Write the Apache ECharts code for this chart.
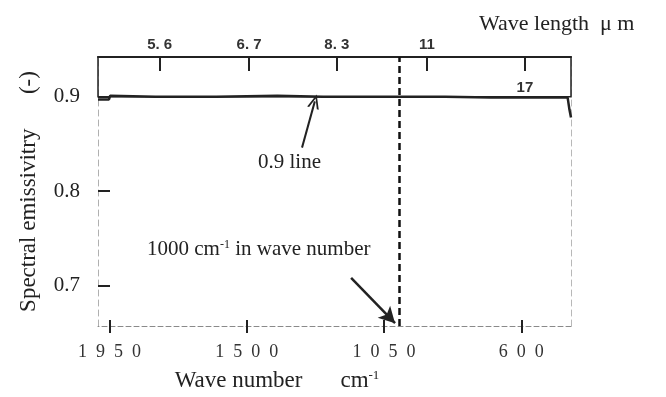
<!DOCTYPE html>
<html>
<head>
<meta charset="utf-8">
<script src="https://cdn.jsdelivr.net/npm/echarts@6/dist/echarts.min.js"></script>
<style>
    html, body { margin: 0; padding: 0; background: #fff; }
    #chart { width: 666px; height: 397px; }
</style>
</head>
<body>
<div id="chart"></div>
<script>
// wave number axis (bottom), cm-1
var waveNumberTicks = [1950, 1500, 1050, 600];
var waveNumberMin = 437;
var waveNumberMax = 1988;
// wave length axis (top), um
var waveLengthTicks = [5.6, 6.7, 8.3, 11, 17];
var waveLengthLabels = ['5. 6', '6. 7', '8. 3', '11', '17'];
// emissivity axis
var emissivityTicks = [0.7, 0.8, 0.9];
var emissivityMin = 0.657;
var emissivityMax = 0.942;
// measured curve
var waveNumber = [1988, 1952, 1948, 1800, 1600, 1400, 1250, 1100, 1000, 850, 700, 600, 500, 448, 442, 437];
var emissivity = [0.897, 0.897, 0.901, 0.900, 0.900, 0.901, 0.900, 0.900, 0.900, 0.900, 0.899, 0.899, 0.899, 0.899, 0.886, 0.878];
// marked wave number
var markWaveNumber = 1000;
// annotation arrows [from, to] in (wave number, emissivity)
var arrowLine09 = [[1319, 0.846], [1277, 0.895]];
var arrowLine1000 = [[1158, 0.708], [1014, 0.660]];

(function () {
    var serif = 'Liberation Serif';
    var ink = '#222';
    var topValues = waveLengthTicks.map(function (l) { return 10000 / l; });
    var lengthLabel = function (v) {
        for (var i = 0; i < topValues.length; i++) {
            if (Math.abs(topValues[i] - v) < 0.01) return waveLengthLabels[i];
        }
        return '';
    };
    var seriesData = [];
    for (var i = 0; i < waveNumber.length; i++) {
        seriesData.push([waveNumber[i], emissivity[i]]);
    }
    var baseX = function () {
        return {
            type: 'value',
            inverse: true,
            min: waveNumberMin,
            max: waveNumberMax,
            splitLine: { show: false },
            axisLine: { show: false },
            axisTick: { show: false },
            axisLabel: { show: false }
        };
    };

    // bottom: wave number
    var xBottom = baseX();
    xBottom.position = 'bottom';
    xBottom.axisLine = { show: true, lineStyle: { color: '#8a8a8a', width: 1, type: [5, 3] } };
    xBottom.axisTick = { show: true, length: 7, customValues: waveNumberTicks, lineStyle: { color: ink, width: 2 } };
    xBottom.axisLabel = {
        show: true, customValues: waveNumberTicks, margin: 17,
        fontFamily: serif, fontSize: 18, color: '#333',
        formatter: function (v) { return String(v).split('').join('\u2002'); }
    };
    xBottom.name = 'Wave number{g|}cm{sup|-1}';
    xBottom.nameLocation = 'middle';
    xBottom.nameGap = 43;
    xBottom.nameTextStyle = {
        fontFamily: serif, fontSize: 23, color: ink, padding: [0, 115, 0, 0],
        rich: {
            g: { width: 38, fontFamily: serif, fontSize: 23 },
            sup: { fontFamily: serif, fontSize: 13, color: ink, verticalAlign: 'top' }
        }
    };
    // bottom: inner half of the crossing ticks
    var xBottomIn = baseX();
    xBottomIn.position = 'bottom';
    xBottomIn.axisTick = { show: true, inside: true, length: 6, customValues: waveNumberTicks, lineStyle: { color: ink, width: 2 } };

    // top: wave length
    var xTop = baseX();
    xTop.position = 'top';
    xTop.axisLine = { show: true, lineStyle: { color: ink, width: 2 } };
    xTop.axisTick = { show: true, inside: true, length: 14, customValues: topValues, lineStyle: { color: ink, width: 2 } };
    xTop.axisLabel = {
        show: true, customValues: topValues.slice(0, 4), margin: 5,
        fontFamily: 'Liberation Sans', fontWeight: 'bold', fontSize: 15, color: '#333',
        formatter: lengthLabel
    };
    // top: the 17 label sits inside the box
    var xTopIn = baseX();
    xTopIn.position = 'top';
    xTopIn.axisLabel = {
        show: true, inside: true, customValues: topValues.slice(4), margin: 23,
        fontFamily: 'Liberation Sans', fontWeight: 'bold', fontSize: 15, color: '#333',
        formatter: lengthLabel
    };

    var option = {
        animation: false,
        backgroundColor: '#fff',
        title: {
            text: 'Wave length  \u03bc m',
            left: 474,
            top: 8,
            textStyle: { fontFamily: serif, fontSize: 22, fontWeight: 'normal', color: ink }
        },
        grid: { left: 98, right: 95, top: 57, bottom: 69 },
        xAxis: [xBottom, xBottomIn, xTop, xTopIn],
        yAxis: [{
            type: 'value',
            position: 'left',
            min: emissivityMin,
            max: emissivityMax,
            splitLine: { show: false },
            axisLine: { show: true, lineStyle: { color: '#b0b0b0', width: 1, type: [6, 4] } },
            axisTick: { show: true, inside: true, length: 12, customValues: emissivityTicks, lineStyle: { color: ink, width: 2 } },
            axisLabel: { customValues: emissivityTicks, margin: 18, fontFamily: serif, fontSize: 21, color: ink },
            name: 'Spectral emissivitry      (-)',
            nameLocation: 'middle',
            nameGap: 58,
            nameTextStyle: { fontFamily: serif, fontSize: 23, color: ink }
        }, {
            type: 'value',
            position: 'right',
            min: emissivityMin,
            max: emissivityMax,
            splitLine: { show: false },
            axisLine: { show: true, lineStyle: { color: '#b8b8b8', width: 1, type: [6, 4] } },
            axisTick: { show: false },
            axisLabel: { show: false }
        }],
        graphic: [{
            type: 'text',
            left: 258,
            top: 152,
            style: { text: '0.9 line', fontFamily: serif, fontSize: 21, fill: ink }
        }, {
            type: 'text',
            left: 147,
            top: 239,
            style: {
                text: '1000 cm{sup|-1} in wave number',
                fontFamily: serif, fontSize: 21, fill: ink,
                rich: { sup: { fontFamily: serif, fontSize: 12, fill: ink, verticalAlign: 'top' } }
            }
        }],
        series: [{
            type: 'line',
            xAxisIndex: 0,
            yAxisIndex: 0,
            data: seriesData,
            showSymbol: false,
            silent: true,
            lineStyle: { color: ink, width: 2.5 },
            markArea: {
                silent: true,
                itemStyle: { color: 'rgba(0,0,0,0)', borderColor: ink, borderWidth: 1.5 },
                data: [[
                    { xAxis: waveNumberMax, yAxis: emissivityTicks[2] },
                    { xAxis: waveNumberMin, yAxis: emissivityMax }
                ]]
            },
            markLine: {
                silent: true,
                symbol: 'none',
                label: { show: false },
                data: [
                    { xAxis: markWaveNumber, lineStyle: { color: '#111', width: 2.5, type: [7, 4] } },
                    [
                        { coord: arrowLine09[0], symbol: 'none', lineStyle: { color: ink, width: 2, type: 'solid' } },
                        { coord: arrowLine09[1], symbol: 'path://M0,14 L6,0 L12,14 L10,14 L6,4 L2,14 Z', symbolSize: [12, 14] }
                    ],
                    [
                        { coord: arrowLine1000[0], symbol: 'none', lineStyle: { color: ink, width: 2.5, type: 'solid' } },
                        { coord: arrowLine1000[1], symbol: 'arrow', symbolSize: [13, 16] }
                    ]
                ]
            }
        }]
    };
    var chart = echarts.init(document.getElementById('chart'));
    chart.setOption(option);
    window.addEventListener('resize', function () {
        chart.resize();
    });
})();
</script>
</body>
</html>
